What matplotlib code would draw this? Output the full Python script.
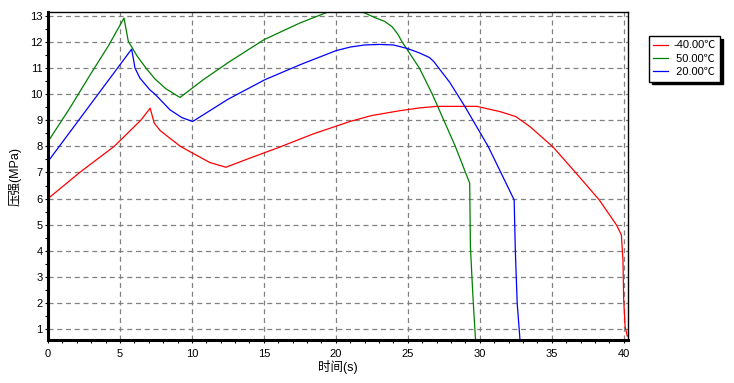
import matplotlib
matplotlib.use("Agg")
import matplotlib.pyplot as plt
from matplotlib.ticker import MultipleLocator

plt.rcParams['font.family'] = ['Liberation Sans', 'Noto Sans CJK SC', 'DejaVu Sans']
plt.rcParams['font.size'] = 8

# -40 C curve
red_t = [0, 0, 2.2, 4.6, 6.45, 7.1, 7.38, 7.8, 8.47, 9.2, 10.05, 11.25, 12.36,
         14.03, 16.0, 18.4, 20.97, 22.5, 24.4, 25.8, 27.0, 29.8, 31.4, 32.5,
         33.5, 35.1, 36.7, 38.3, 39.5, 39.84, 39.95, 40.0, 40.1, 40.25]
red_p = [4.4, 6.0, 7.0, 8.0, 9.0, 9.46, 8.89, 8.6, 8.31, 8.0, 7.74, 7.38, 7.2,
         7.55, 7.95, 8.47, 8.95, 9.18, 9.36, 9.47, 9.53, 9.53, 9.33, 9.14,
         8.75, 7.97, 6.97, 5.95, 4.99, 4.61, 3.65, 2.12, 1.1, 0.74]

# 50 C curve
green_t = [0, 0, 1.5, 3.0, 4.2, 5.28, 5.58, 6.2, 6.8, 7.43, 8.2, 9.17, 10.79,
           12.5, 15.0, 17.5, 19.4, 20.6, 21.9, 22.7, 23.4, 23.9, 24.3, 24.6,
           25.8, 26.7, 27.5, 28.3, 29.3, 29.35, 29.49, 29.58, 29.7, 29.75]
green_p = [7.4, 8.18, 9.45, 10.8, 11.85, 12.91, 12.02, 11.45, 11.0, 10.58, 10.2,
           9.87, 10.55, 11.2, 12.08, 12.72, 13.13, 13.22, 13.13, 12.93, 12.78,
           12.58, 12.3, 12.0, 11.0, 10.0, 9.0, 8.0, 6.59, 4.16, 2.63, 1.74,
           0.65, 0.5]

# 20 C curve
blue_t = [0, 0, 5.81, 5.95, 6.04, 6.39, 7.08, 7.43, 8.47, 9.3, 10.05, 12.5,
          15.07, 17.5, 20.0, 21.0, 22.0, 23.0, 24.0, 25.0, 25.83, 26.5, 26.8,
          27.2, 27.9, 28.96, 30.58, 32.39, 32.47, 32.6, 32.78, 32.8]
blue_p = [5.18, 7.42, 11.72, 11.3, 11.0, 10.61, 10.16, 10.0, 9.4, 9.1, 8.95, 9.8,
          10.55, 11.12, 11.66, 11.8, 11.88, 11.9, 11.88, 11.74, 11.57, 11.4,
          11.25, 10.96, 10.46, 9.53, 8.0, 5.95, 4.03, 2.0, 0.71, 0.5]

labels = ['-40.00℃', ' 50.00℃', ' 20.00℃']


def draw_chart():
    fig = plt.figure(figsize=(7.34, 3.83), dpi=100)
    ax = fig.add_axes([48 / 734, 43.3 / 383, 580 / 734, 327.4 / 383])

    ax.plot(red_t, red_p, color='#ff0000', lw=0.9, label=labels[0])
    ax.plot(green_t, green_p, color='#008000', lw=0.9, label=labels[1])
    ax.plot(blue_t, blue_p, color='#0000ff', lw=0.9, label=labels[2])

    ax.set_xlim(0, 40.3)
    ax.set_ylim(0.6, 13.13)
    ax.xaxis.set_major_locator(MultipleLocator(5))
    ax.xaxis.set_minor_locator(MultipleLocator(1))
    ax.yaxis.set_major_locator(MultipleLocator(1))
    ax.yaxis.set_minor_locator(MultipleLocator(0.5))
    ax.grid(True, which='major', color='#808080', linestyle=(0, (4, 3)), lw=0.9)

    for side in ['left', 'bottom']:
        ax.spines[side].set_linewidth(2.2)
    for side in ['top', 'right']:
        ax.spines[side].set_linewidth(1.0)

    ax.tick_params(axis='x', which='both', direction='out', length=2.5, width=0.8, pad=4)
    ax.tick_params(axis='y', which='both', direction='out', length=2, width=0.8, pad=2)

    ax.set_xlabel('时间(s)', fontsize=9, labelpad=1)
    ax.set_ylabel('压强(MPa)', fontsize=9, labelpad=6)

    fig.legend(loc='upper left', bbox_to_anchor=(649 / 734, 1 - 36 / 383),
               borderaxespad=0, fancybox=False, edgecolor='black', framealpha=1,
               shadow={'facecolor': 'black', 'edgecolor': 'black', 'alpha': 1},
               handlelength=1.3, handletextpad=0.5, borderpad=0.4,
               labelspacing=0.3, fontsize=8)

    fig.savefig('out.png', dpi=100)


if __name__ == "__main__":
    draw_chart()
